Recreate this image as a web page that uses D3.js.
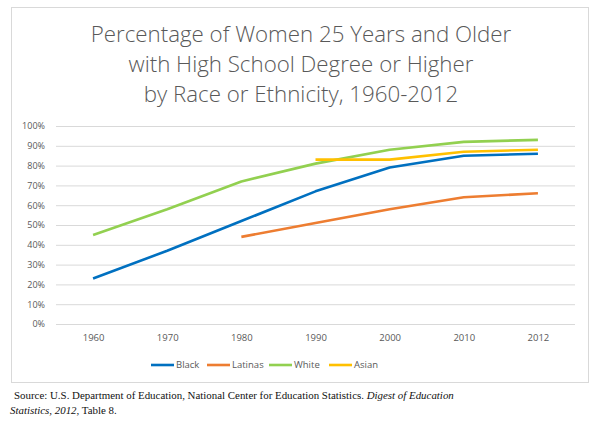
<!DOCTYPE html>
<html>
<head>
<meta charset="utf-8">
<script src="https://cdn.jsdelivr.net/npm/d3@7"></script>
<style>
  body { margin: 0; background: #fff; }
  svg { display: block; }
</style>
</head>
<body>
<div id="chart"></div>
<script>
// chart data
var years = ['1960', '1970', '1980', '1990', '2000', '2010', '2012'];
var black   = [23, 37, 52, 67, 79, 85, 86];
var latinas = [null, null, 44, 51, 58, 64, 66];
var white   = [45, 58, 72, 81, 88, 92, 93];
var asian   = [null, null, null, 83, 83, 87, 88];
var seriesNames = ['Black', 'Latinas', 'White', 'Asian'];
var yTicks = [0, 10, 20, 30, 40, 50, 60, 70, 80, 90, 100];
var titleLines = ['Percentage of Women 25 Years and Older',
                  'with High School Degree or Higher',
                  'by Race or Ethnicity, 1960-2012'];

var colors = ['#0070C0', '#ED7D31', '#92D050', '#FFC000'];
var seriesValues = [black, latinas, white, asian];

var width = 600, height = 428;
var svg = d3.select('#chart').append('svg')
    .attr('width', width)
    .attr('height', height);

// outer border of the chart area
svg.append('rect')
    .attr('x', 11.5).attr('y', 7.5)
    .attr('width', 577).attr('height', 375)
    .attr('fill', '#fff')
    .attr('stroke', '#d9d9d9')
    .attr('stroke-width', 1);

// title
svg.append('g').selectAll('text')
    .data(titleLines)
    .enter()
    .append('text')
    .attr('x', 301)
    .attr('y', function(d, i) { return 42 + i * 30; })
    .attr('text-anchor', 'middle')
    .attr('fill', '#595959')
    .style('font-family', 'Open Sans, sans-serif')
    .style('font-weight', 300)
    .style('font-size', '22.3px')
    .text(function(d) { return d; });

var plotLeft = 56, plotRight = 575, plotTop = 126, plotBottom = 324;

var x = d3.scalePoint()
    .domain(years)
    .range([plotLeft, plotRight])
    .padding(0.5);

var y = d3.scaleLinear()
    .domain([0, 100])
    .range([plotBottom, plotTop]);

// gridlines
var yAxis = d3.axisLeft(y)
    .tickValues(yTicks)
    .tickSize(-(plotRight - plotLeft))
    .tickPadding(11)
    .tickFormat(function(d) { return d + '%'; });

var gy = svg.append('g')
    .attr('transform', 'translate(' + plotLeft + ',0)')
    .call(yAxis);
gy.select('.domain').remove();
gy.selectAll('line').attr('stroke', '#d9d9d9').attr('stroke-width', 1);
gy.selectAll('text')
    .attr('fill', '#595959')
    .style('font-family', 'Open Sans, sans-serif')
    .style('font-size', '9px');

var xAxis = d3.axisBottom(x).tickSize(0).tickPadding(10);
var gx = svg.append('g')
    .attr('transform', 'translate(0,' + plotBottom + ')')
    .call(xAxis);
gx.select('.domain').remove();
gx.selectAll('text')
    .attr('fill', '#595959')
    .style('font-family', 'Open Sans, sans-serif')
    .style('font-size', '9.5px');

// lines
var line = d3.line()
    .defined(function(d) { return d.v != null; })
    .x(function(d) { return x(d.year); })
    .y(function(d) { return y(d.v); });

seriesValues.forEach(function(vals, i) {
    var pts = vals.map(function(v, j) { return { year: years[j], v: v }; });
    svg.append('path')
        .datum(pts)
        .attr('fill', 'none')
        .attr('stroke', colors[i])
        .attr('stroke-width', 2.6)
        .attr('stroke-linejoin', 'round')
        .attr('d', line);
});

// legend
var legendX = [151, 207, 269, 329];
var legend = svg.append('g').selectAll('g')
    .data(seriesNames)
    .enter()
    .append('g')
    .attr('transform', function(d, i) { return 'translate(' + legendX[i] + ',365)'; });
legend.append('line')
    .attr('x1', 0).attr('x2', 23)
    .attr('stroke', function(d, i) { return colors[i]; })
    .attr('stroke-width', 2.6);
legend.append('text')
    .attr('x', 25)
    .attr('dy', '0.35em')
    .attr('fill', '#595959')
    .style('font-family', 'Open Sans, sans-serif')
    .style('font-size', '9.5px')
    .text(function(d) { return d; });

// source note
var src = svg.append('g')
    .style('font-family', 'Liberation Serif, serif')
    .style('font-size', '10.9px')
    .attr('fill', '#111');
var t1 = src.append('text').attr('x', 14).attr('y', 399);
t1.append('tspan').text('Source: U.S. Department of Education, National Center for Education Statistics. ');
t1.append('tspan').style('font-style', 'italic').text('Digest of  Education');
var t2 = src.append('text').attr('x', 10).attr('y', 414);
t2.append('tspan').style('font-style', 'italic').text('Statistics, 2012');
t2.append('tspan').text(', Table 8.');
</script>
</body>
</html>
